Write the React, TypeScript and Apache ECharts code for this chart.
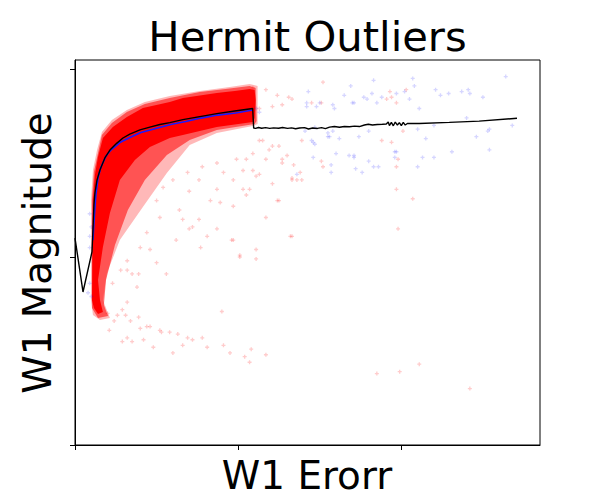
import React, { useEffect, useRef } from "react";
import * as echarts from "echarts";

// ---- data (x: W1 error, y: W1 magnitude, arbitrary units; ticks unlabeled) ----
const xTicks = [0, 1, 2];
const yTicks = [0, 1, 2];

// dense red cloud: solid core outline
const coreX = [0.104, 0.107, 0.110, 0.122, 0.141, 0.171, 0.232, 0.318, 0.416, 0.581, 0.661, 0.869, 0.979, 1.070, 1.101, 1.107, 1.101, 1.089, 0.869, 0.661, 0.581, 0.459, 0.367, 0.275, 0.214, 0.171, 0.141, 0.153, 0.171, 0.141, 0.116];
const coreY = [0.771, 1.037, 1.303, 1.436, 1.532, 1.633, 1.691, 1.745, 1.793, 1.824, 1.846, 1.872, 1.883, 1.894, 1.888, 1.835, 1.739, 1.718, 1.691, 1.649, 1.633, 1.585, 1.516, 1.410, 1.234, 1.053, 0.878, 0.771, 0.707, 0.697, 0.729];

// semi-dense layer around the core
const midX = [0.104, 0.104, 0.116, 0.141, 0.165, 0.226, 0.318, 0.428, 0.581, 0.765, 0.948, 1.070, 1.107, 1.113, 1.101, 0.869, 0.703, 0.563, 0.428, 0.324, 0.245, 0.190, 0.177, 0.202, 0.141, 0.104];
const midY = [0.771, 1.303, 1.452, 1.553, 1.649, 1.713, 1.771, 1.814, 1.846, 1.878, 1.896, 1.910, 1.899, 1.723, 1.707, 1.676, 1.622, 1.543, 1.410, 1.250, 1.064, 0.878, 0.745, 0.686, 0.676, 0.729];

// fuzzy halo outline around the cloud
const haloX = [0.098, 0.098, 0.110, 0.135, 0.165, 0.226, 0.318, 0.428, 0.581, 0.765, 0.948, 1.070, 1.119, 1.119, 1.089, 0.869, 0.703, 0.563, 0.416, 0.275, 0.196, 0.171, 0.214, 0.153, 0.110];
const haloY = [0.771, 1.303, 1.463, 1.569, 1.665, 1.729, 1.782, 1.824, 1.856, 1.883, 1.904, 1.920, 1.910, 1.707, 1.697, 1.660, 1.596, 1.447, 1.266, 1.090, 0.915, 0.771, 0.676, 0.665, 0.691];

// sparse red points
const redX = [0.15, 0.20, 0.26, 0.31, 0.29, 0.34, 0.39, 0.44, 0.46, 0.53, 0.58, 0.63, 0.69, 0.72, 0.78, 0.81, 0.91, 0.95, 1.04, 1.07, 1.08, 1.17, 0.29, 0.35, 0.42, 0.48, 0.60, 0.66, 0.21, 0.24, 0.32, 0.40, 0.52,
  0.32, 0.35, 0.39, 0.38, 0.32, 0.50, 0.56, 0.23, 0.90, 1.01, 1.11, 1.11, 0.96, 1.32, 0.77, 0.87, 0.70,
  0.76, 0.87, 0.97, 1.03, 1.05, 1.17, 1.25, 1.30, 1.33, 1.33, 1.01, 0.81, 0.72, 0.66, 0.64, 0.70, 0.83, 0.89, 0.97, 0.46, 0.62, 0.76, 0.91, 1.03, 1.21, 1.09, 0.99, 0.87, 0.78, 0.69, 0.60, 0.54, 0.50, 0.52, 0.44, 0.40, 0.32, 0.28, 1.11, 1.21, 1.27, 0.97, 1.17,
  1.13, 1.21, 1.27, 1.31, 1.33, 1.51, 1.52, 1.45, 1.24, 1.17, 1.09, 1.13, 1.15, 1.25, 1.27, 1.19, 1.05, 1.09, 1.13, 1.07, 1.24, 1.38, 1.36, 1.93, 1.94, 1.97, 1.91, 2.03, 1.88, 1.94, 1.97,
  1.39, 1.34, 1.52, 1.39, 1.33, 1.51, 1.98, 1.97, 2.07, 1.98, 2.11, 1.99, 1.85, 2.42, 2.01];
const redY = [0.72, 0.70, 0.69, 0.69, 0.72, 0.66, 0.68, 0.63, 0.63, 0.60, 0.60, 0.59, 0.57, 0.56, 0.57, 0.52, 0.53, 0.49, 0.47, 0.44, 0.51, 0.48, 0.55, 0.55, 0.56, 0.52, 0.49, 0.53, 0.61, 0.66, 0.57, 0.62, 0.61,
  0.93, 0.91, 0.91, 0.84, 0.76, 0.97, 0.91, 0.86, 0.71, 1.01, 1.04, 0.99, 1.09, 1.11, 1.05, 1.15, 1.15,
  1.41, 1.36, 1.27, 1.36, 1.33, 1.21, 1.30, 1.54, 1.42, 1.11, 1.00, 1.11, 1.16, 1.20, 1.25, 1.35, 1.30, 1.29, 1.09, 1.04, 1.09, 1.20, 1.45, 1.46, 1.59, 1.55, 1.52, 1.50, 1.48, 1.45, 1.41, 1.37, 1.30, 1.21, 1.13, 1.05, 0.98, 0.93, 1.43, 1.39, 1.50, 1.41, 1.52,
  1.79, 1.80, 1.81, 1.85, 1.84, 1.82, 1.93, 1.82, 1.86, 1.89, 1.90, 1.62, 1.62, 1.59, 1.52, 1.57, 1.52, 1.46, 1.44, 1.36, 1.30, 1.45, 1.41, 1.88, 1.85, 1.82, 1.84, 1.89, 1.62, 1.61, 1.36,
  1.62, 1.49, 1.48, 1.41, 1.41, 1.51, 1.52, 1.48, 1.31, 1.15, 0.43, 0.39, 0.38, 0.30, 1.67];

// sparse blue points
const blueX = [1.41, 1.55, 1.58, 1.56, 1.62, 1.74, 1.80, 1.45, 1.46, 1.47, 1.60, 1.68, 1.71, 1.71, 1.46, 1.57, 1.72, 1.80, 1.83, 1.86, 1.76, 1.57, 1.36, 1.96, 1.96, 2.13, 2.20, 2.10, 2.15, 2.31, 2.46, 2.54, 2.53,
  1.43, 1.42, 1.42, 1.48, 1.50, 1.58, 1.59, 1.65, 1.69, 1.70, 1.71, 1.77, 1.79, 1.82, 1.83, 1.85, 1.88, 1.97, 2.02, 2.07, 2.08, 2.05, 2.11, 2.21, 2.24, 2.29, 2.37, 2.41, 2.42, 2.50, 2.64, 2.40, 2.20, 2.54, 2.68, 2.10, 1.97, 1.55, 1.47,
  0.09, 0.10, 0.09, 0.10, 0.09, 0.09, 0.08, 1.11, 1.13];
const blueY = [1.67, 1.66, 1.67, 1.64, 1.63, 1.64, 1.67, 1.62, 1.61, 1.60, 1.55, 1.54, 1.54, 1.53, 1.53, 1.49, 1.47, 1.51, 1.48, 1.48, 1.45, 1.45, 1.44, 1.56, 1.53, 1.53, 1.53, 1.48, 1.63, 1.56, 1.64, 1.57, 1.67,
  1.88, 1.82, 1.80, 1.80, 1.82, 1.81, 1.79, 1.86, 1.91, 1.82, 1.82, 1.85, 1.84, 1.87, 1.94, 1.82, 1.85, 1.87, 1.88, 1.95, 1.91, 1.84, 1.79, 1.89, 1.86, 1.87, 1.88, 1.89, 1.87, 1.85, 1.96, 1.74, 1.70, 1.68, 1.70, 1.68, 1.56, 1.64, 1.69,
  1.23, 1.16, 0.86, 0.79, 1.05, 1.11, 0.81, 1.79, 1.77];

// running mean (blue) along the dense cloud
const meanX = [0.110, 0.119, 0.128, 0.141, 0.159, 0.190, 0.220, 0.281, 0.343, 0.404, 0.495, 0.587, 0.679, 0.771, 0.875, 0.985, 1.089];
const meanY = [1.090, 1.223, 1.330, 1.420, 1.479, 1.537, 1.569, 1.612, 1.638, 1.662, 1.684, 1.705, 1.721, 1.739, 1.755, 1.766, 1.782];

// fitted (black) line
const fitX = [0, 0.049, 0.104, 0.110, 0.116, 0.122, 0.135, 0.153, 0.183, 0.214, 0.257, 0.294, 0.336, 0.398, 0.459, 0.520, 0.581, 0.661, 0.765, 0.869, 0.979, 1.089, 1.095,
  1.107, 1.125, 1.144, 1.168, 1.193, 1.217, 1.248, 1.272, 1.303, 1.327, 1.352, 1.376, 1.407, 1.431, 1.456, 1.486, 1.511, 1.535, 1.560, 1.590, 1.621, 1.651, 1.682, 1.713, 1.743, 1.774, 1.798, 1.823, 1.853, 1.884, 1.908,
  1.920, 1.927, 1.939, 1.951, 1.963, 1.976, 1.988, 2.000, 2.012, 2.024, 2.037, 2.110, 2.294, 2.477, 2.709];
const fitY = [1.101, 0.814, 1.027, 1.144, 1.277, 1.340, 1.410, 1.463, 1.527, 1.569, 1.606, 1.633, 1.654, 1.676, 1.691, 1.705, 1.715, 1.731, 1.747, 1.763, 1.777, 1.790, 1.686,
  1.684, 1.689, 1.685, 1.688, 1.684, 1.687, 1.685, 1.689, 1.684, 1.687, 1.682, 1.686, 1.688, 1.681, 1.686, 1.684, 1.688, 1.683, 1.691, 1.694, 1.690, 1.694, 1.693, 1.696, 1.694, 1.702, 1.706, 1.702, 1.705, 1.706, 1.707,
  1.718, 1.699, 1.716, 1.698, 1.718, 1.702, 1.715, 1.699, 1.716, 1.702, 1.710, 1.710, 1.716, 1.723, 1.738];

const zip = (xs: number[], ys: number[]) => xs.map((x, i) => [x, ys[i]]);

const PLUS = "path://M1,0L2,0L2,1L3,1L3,2L2,2L2,3L1,3L1,2L0,2L0,1L1,1Z";
const FONT = "DejaVu Sans";

function polygonSeries(name: string, pts: number[][], fill: string, z: number) {
  return {
    type: "custom",
    name,
    data: pts,
    encode: { x: 0, y: 1 },
    silent: true,
    z,
    renderItem: (params: any, api: any) => {
      if (params.dataIndex !== 0) return null;
      return {
        type: "polygon",
        shape: { points: pts.map((p) => api.coord(p)) },
        style: { fill, stroke: "none" },
      };
    },
  };
}

export default function App() {
  const ref = useRef<HTMLDivElement>(null);
  useEffect(() => {
    if (!ref.current) return;
    const chart = echarts.init(ref.current, undefined, { renderer: "svg" });
    const axisCommon = (ticks: number[]) => ({
      axisLine: { show: true, lineStyle: { color: "#000", width: 1 } },
      axisTick: { show: true, inside: false, length: 5, customValues: ticks, lineStyle: { color: "#000", width: 1 } },
      axisLabel: { show: false },
      splitLine: { show: false },
    });
    chart.setOption({
      animation: false,
      grid: { left: 75, top: 60, width: 465, height: 385, show: true, borderColor: "#000", borderWidth: 1, backgroundColor: "#fff" },
      xAxis: { type: "value", min: xTicks[0], max: 2.85, interval: xTicks[1] - xTicks[0], ...axisCommon(xTicks) },
      yAxis: { type: "value", min: yTicks[0], max: 2.048, interval: yTicks[1] - yTicks[0], ...axisCommon(yTicks) },
      graphic: [
        { type: "text", x: 307.5, y: 36, style: { text: "Hermit Outliers", font: `41.7px '${FONT}'`, fill: "#000", textAlign: "center", textVerticalAlign: "middle" } },
        { type: "text", x: 307, y: 475, style: { text: "W1 Erorr", font: `38.9px '${FONT}'`, fill: "#000", textAlign: "center", textVerticalAlign: "middle" } },
        { type: "text", x: 37, y: 253, rotation: Math.PI / 2, style: { text: "W1 Magnitude", font: `38.9px '${FONT}'`, fill: "#000", textAlign: "center", textVerticalAlign: "middle" } },
      ],
      series: [
        polygonSeries("halo", zip(haloX, haloY), "rgba(255,0,0,0.28)", 1),
        polygonSeries("mid", zip(midX, midY), "rgba(255,0,0,0.55)", 2),
        polygonSeries("core", zip(coreX, coreY), "#ff0000", 3),
        { type: "scatter", name: "red", data: zip(redX, redY), symbol: PLUS, symbolSize: 4, itemStyle: { color: "rgba(255,0,0,0.25)" }, z: 4, silent: true },
        { type: "scatter", name: "blue", data: zip(blueX, blueY), symbol: PLUS, symbolSize: 4, itemStyle: { color: "rgba(0,0,255,0.2)" }, z: 5, silent: true },
        { type: "line", name: "mean", data: zip(meanX, meanY), showSymbol: false, lineStyle: { color: "#1a1aff", width: 1.6 }, z: 6, silent: true },
        { type: "line", name: "fit", data: zip(fitX, fitY), showSymbol: false, lineStyle: { color: "#000", width: 1.4 }, z: 7, silent: true },
      ],
    });
    return () => chart.dispose();
  }, []);
  return <div ref={ref} style={{ position: "fixed", left: 0, top: 0, width: 600, height: 500, background: "#fff" }} />;
}
